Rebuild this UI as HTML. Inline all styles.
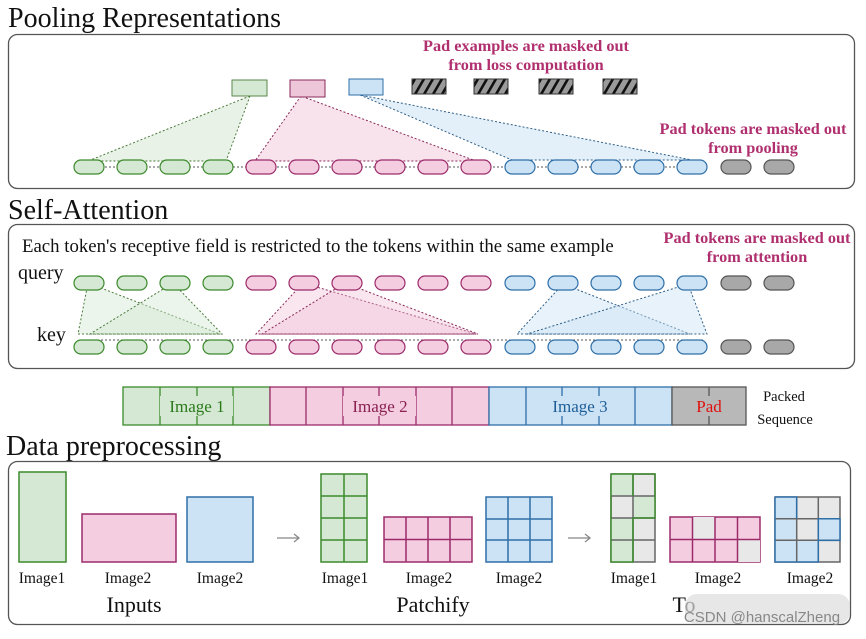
<!DOCTYPE html>
<html><head><meta charset="utf-8"><style>
body{margin:0;background:#fff;width:866px;height:634px;overflow:hidden}
svg text{font-family:"Liberation Serif","DejaVu Serif",serif}
</style></head><body>
<svg width="866" height="634" viewBox="0 0 866 634" xmlns="http://www.w3.org/2000/svg">
<defs>
<pattern id="hatch" width="9" height="16" patternUnits="userSpaceOnUse" patternTransform="skewX(-30)">
<rect width="9" height="16" fill="#9a9a9a"/><rect width="3" height="16" fill="#111"/>
</pattern>
</defs>
<!-- Titles -->
<text x="8" y="27" font-size="28" fill="#111">Pooling Representations</text>
<text x="8" y="219" font-size="28" fill="#111">Self-Attention</text>
<text x="6" y="455" font-size="28" fill="#111">Data preprocessing</text>

<!-- Box 1 -->
<rect x="8.5" y="34.5" width="846" height="154" rx="9" fill="none" stroke="#555" stroke-width="1.3"/>
<g font-weight="bold" font-size="16.3" fill="#b0306f" text-anchor="middle">
<text x="526" y="51">Pad examples are masked out</text>
<text x="526" y="70">from loss computation</text>
<text x="753" y="134">Pad tokens are masked out</text>
<text x="753" y="153">from pooling</text>
<text x="757" y="243">Pad tokens are masked out</text>
<text x="757" y="262">from attention</text>
</g>
<!-- pooling triangles -->
<polygon points="250,96 88,161 226,161" fill="#d5e8d4" fill-opacity="0.55" stroke="#4a7a3a" stroke-dasharray="2,2"/>
<polygon points="301,96 255,161 476,161" fill="#f0c0d8" fill-opacity="0.45" stroke="#8a2a5a" stroke-dasharray="2,2"/>
<polygon points="360,95 512,160 692,160" fill="#cce3f5" fill-opacity="0.55" stroke="#2f5f88" stroke-dasharray="2,2"/>
<rect x="232" y="80" width="35" height="16" fill="#d5e8d4" stroke="#5a8a4a"/>
<rect x="290" y="80" width="35" height="17" fill="#eec6da" stroke="#8a2a5a"/>
<rect x="349" y="79" width="34" height="16" fill="#cce3f5" stroke="#2f6fa8"/>
<g stroke="#333"><rect x="412" y="79" width="34" height="15" fill="url(#hatch)"/><rect x="474" y="79" width="34" height="15" fill="url(#hatch)"/><rect x="539" y="79" width="34" height="15" fill="url(#hatch)"/><rect x="603" y="79" width="34" height="15" fill="url(#hatch)"/></g>
<line x1="89" y1="167" x2="705" y2="167" stroke="#555" stroke-dasharray="2,2"/>
<g id="row1" stroke-width="1.2">
<g fill="#d5e8d4" stroke="#3c8a2c"><rect x="74" y="160" width="30" height="14" rx="7"/><rect x="117" y="160" width="30" height="14" rx="7"/><rect x="160" y="160" width="30" height="14" rx="7"/><rect x="203" y="160" width="30" height="14" rx="7"/></g>
<g fill="#f4cde0" stroke="#9c2b6b"><rect x="246" y="160" width="30" height="14" rx="7"/><rect x="289" y="160" width="30" height="14" rx="7"/><rect x="332" y="160" width="30" height="14" rx="7"/><rect x="375" y="160" width="30" height="14" rx="7"/><rect x="418" y="160" width="30" height="14" rx="7"/><rect x="461" y="160" width="30" height="14" rx="7"/></g>
<g fill="#cce3f5" stroke="#2f6fa8"><rect x="505" y="160" width="30" height="14" rx="7"/><rect x="548" y="160" width="30" height="14" rx="7"/><rect x="591" y="160" width="30" height="14" rx="7"/><rect x="634" y="160" width="30" height="14" rx="7"/><rect x="677" y="160" width="30" height="14" rx="7"/></g>
<g fill="#a8a8a8" stroke="#555"><rect x="721" y="160" width="30" height="14" rx="7"/><rect x="764" y="160" width="30" height="14" rx="7"/></g>
</g>

<!-- Box 2 -->
<rect x="8.5" y="224.5" width="846" height="144" rx="9" fill="none" stroke="#555" stroke-width="1.3"/>
<text x="22" y="252" font-size="18.8" fill="#111">Each token's receptive field is restricted to the tokens within the same example</text>
<text x="18" y="279" font-size="20" fill="#111">query</text>
<text x="37" y="341" font-size="20" fill="#111">key</text>
<g stroke-dasharray="2,2">
<polygon points="88,283 78,334 220,334" fill="#d5e8d4" fill-opacity="0.45" stroke="#4a7a3a"/>
<polygon points="173,283 90,334 222,334" fill="#d5e8d4" fill-opacity="0.45" stroke="#4a7a3a"/>
<polygon points="303,283 256,334 476,334" fill="#f0c0d8" fill-opacity="0.4" stroke="#8a2a5a"/>
<polygon points="345,283 262,334 478,334" fill="#f0c0d8" fill-opacity="0.4" stroke="#8a2a5a"/>
<polygon points="563,284 517,334 690,334" fill="#cce3f5" fill-opacity="0.45" stroke="#2f5f88"/>
<polygon points="688,284 527,334 707,334" fill="#cce3f5" fill-opacity="0.45" stroke="#2f5f88"/>
</g>
<line x1="89" y1="340" x2="705" y2="340" stroke="#555" stroke-dasharray="2,2"/>
<use href="#row1" y="116"/>
<use href="#row1" y="180"/>

<!-- packed sequence -->
<g stroke-width="1.3">
<rect x="123" y="387" width="147" height="38" fill="#d5e8d4" stroke="#3c8a2c"/>
<path d="M160,387v38M197,387v38M233,387v38" stroke="#3c8a2c"/>
<rect x="270" y="387" width="219" height="38" fill="#f4cde0" stroke="#9c2b6b"/>
<path d="M306,387v38M343,387v38M379,387v38M416,387v38M452,387v38" stroke="#9c2b6b"/>
<rect x="489" y="387" width="183" height="38" fill="#cce3f5" stroke="#2f6fa8"/>
<path d="M526,387v38M562,387v38M599,387v38M635,387v38" stroke="#2f6fa8"/>
<rect x="672" y="387" width="74" height="38" fill="#b8b8b8" stroke="#555"/>
<path d="M709,387v38" stroke="#555"/>
</g>
<rect x="160" y="396" width="73" height="20" fill="#d5e8d4"/>
<text x="197" y="412" font-size="17" fill="#2a7a1a" text-anchor="middle">Image 1</text>
<rect x="343" y="396" width="73" height="20" fill="#f4cde0"/>
<text x="380" y="412" font-size="17" fill="#8a2050" text-anchor="middle">Image 2</text>
<rect x="544" y="396" width="73" height="20" fill="#cce3f5"/>
<text x="580" y="412" font-size="17" fill="#1f5f98" text-anchor="middle">Image 3</text>
<rect x="690" y="396" width="38" height="20" fill="#b8b8b8"/>
<text x="709" y="412" font-size="17" fill="#e01010" text-anchor="middle">Pad</text>
<text x="784" y="401" font-size="14.5" fill="#111" text-anchor="middle">Packed</text>
<text x="785" y="424" font-size="14.5" fill="#111" text-anchor="middle">Sequence</text>

<!-- Box 3 -->
<rect x="8.5" y="461.5" width="842" height="163" rx="9" fill="none" stroke="#555" stroke-width="1.3"/>
<g stroke-width="1.5">
<rect x="19" y="472" width="47" height="90" fill="#d5e8d4" stroke="#3c8a2c"/>
<rect x="82" y="514" width="94" height="48" fill="#f4cde0" stroke="#9c2b6b"/>
<rect x="187" y="497" width="66" height="65" fill="#cce3f5" stroke="#2f6fa8"/>
</g>
<g font-size="15.5" fill="#111" text-anchor="middle">
<text x="42" y="583">Image1</text><text x="128" y="583">Image2</text><text x="220" y="583">Image2</text>
<text x="345" y="583">Image1</text><text x="429" y="583">Image2</text><text x="519" y="583">Image2</text>
<text x="634" y="583">Image1</text><text x="718" y="583">Image2</text><text x="810" y="583">Image2</text>
</g>
<g font-size="22" fill="#111" text-anchor="middle">
<text x="134" y="612">Inputs</text><text x="433" y="612">Patchify</text><text x="684" y="612">To</text>
</g>
<g stroke="#888" stroke-width="1.3" fill="none"><path d="M277,538h22M294,534l5,4l-5,4"/><path d="M568,538h22M585,534l5,4l-5,4"/></g>
<!-- patchify grids -->
<g stroke-width="1.5">
<rect x="321" y="474" width="46" height="88" fill="#d5e8d4" stroke="#3c8a2c"/>
<path d="M344,474v88M321,496h46M321,518h46M321,540h46" stroke="#3c8a2c"/>
<rect x="384" y="517" width="88" height="45" fill="#f4cde0" stroke="#9c2b6b"/>
<path d="M406,517v45M428,517v45M450,517v45M384,539.5h88" stroke="#9c2b6b"/>
<rect x="486" y="497" width="66" height="65" fill="#cce3f5" stroke="#2f6fa8"/>
<path d="M508,497v65M530,497v65M486,519h66M486,540h66" stroke="#2f6fa8"/>
</g>
<!-- token grids -->
<g stroke-width="1.5">
<rect x="611" y="474" width="44" height="88" fill="#e8e8e8" stroke="#666"/>
<rect x="611" y="474" width="22" height="22" fill="#d5e8d4"/><rect x="633" y="496" width="22" height="22" fill="#d5e8d4"/><rect x="611" y="518" width="22" height="44" fill="#d5e8d4"/>
<path d="M633,474v88M611,496h44M611,518h44M611,540h44" stroke="#666"/>
<path d="M611,474h22v22M611,474v88h22v-44h22v-44h-22" stroke="#3c8a2c" fill="none"/>
<rect x="670" y="517" width="90" height="45" fill="#f4cde0" stroke="#9c2b6b"/>
<rect x="692.5" y="517" width="22.5" height="22.5" fill="#e8e8e8"/><rect x="737.5" y="539.5" width="22.5" height="22.5" fill="#e8e8e8"/>
<path d="M692.5,517v45M715,517v45M737.5,517v45M670,539.5h90" stroke="#9c2b6b"/>
<rect x="775" y="497" width="65" height="65" fill="#e8e8e8" stroke="#666"/>
<rect x="775" y="497" width="21.7" height="65" fill="#cce3f5"/><rect x="818.3" y="518.7" width="21.7" height="21.7" fill="#cce3f5"/><rect x="796.7" y="540.3" width="21.7" height="21.7" fill="#cce3f5"/>
<path d="M796.7,497v65M818.3,497v65M775,518.7h65M775,540.3h65" stroke="#666"/>
<path d="M775,497h21.7v21.7M775,497v65h43.3v-21.7M818.3,518.7h21.7v21.7h-21.7z" stroke="#2f6fa8" fill="none"/>
</g>
<!-- watermark -->
<rect x="685" y="594" width="165" height="30" rx="12" fill="#ddd" fill-opacity="0.7"/>
<text x="762" y="622" font-size="15" fill="#888" text-anchor="middle" style="font-family:'Liberation Sans',sans-serif">CSDN @hanscalZheng</text>
</svg>
</body></html>
